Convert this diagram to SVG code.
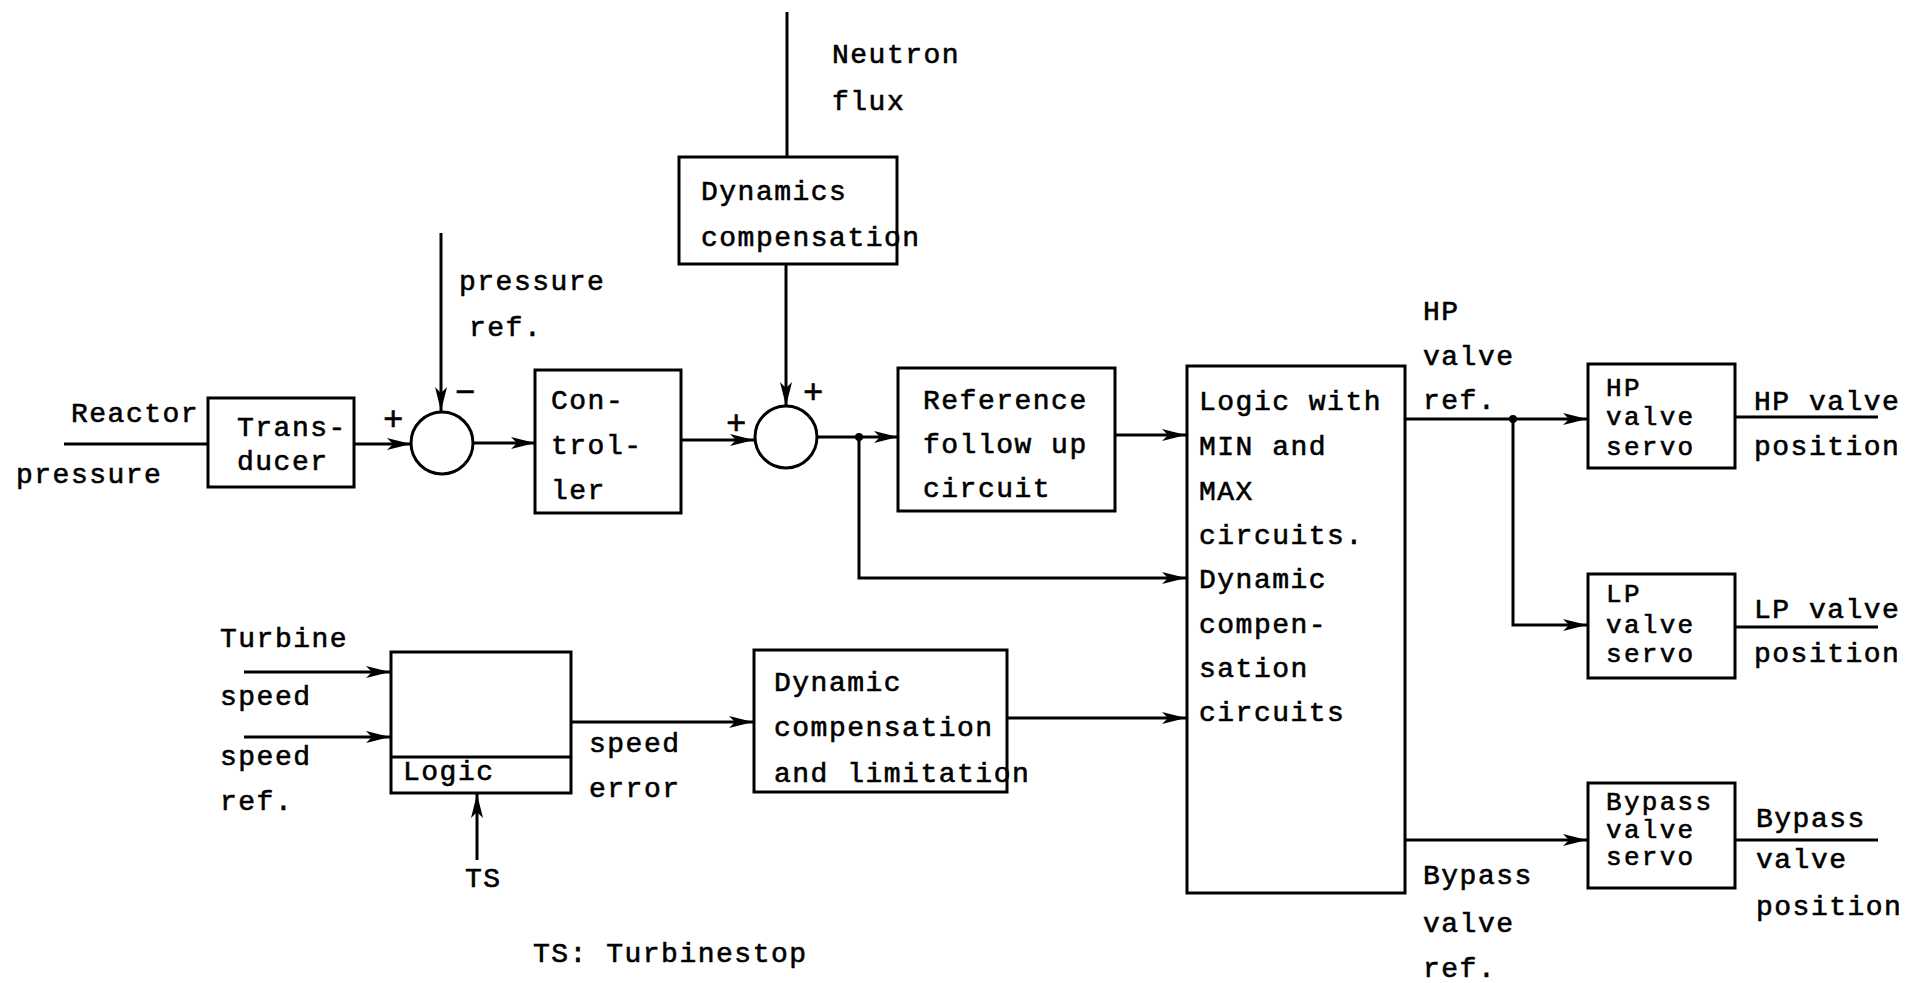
<svg xmlns="http://www.w3.org/2000/svg" width="1927" height="983" viewBox="0 0 1927 983">
<defs>
<marker id="arr" markerUnits="userSpaceOnUse" markerWidth="26" markerHeight="14" refX="24" refY="7" orient="auto">
<path d="M0,1 L24,7 L0,13 L6,7 Z" fill="#000"/>
</marker>
<style>
.b{fill:#fff;stroke:#000;stroke-width:3}
.l{fill:none;stroke:#000;stroke-width:3}
.a{fill:none;stroke:#000;stroke-width:3;marker-end:url(#arr)}
text{font-family:"Liberation Mono","Courier New",monospace;font-size:28px;letter-spacing:1.5px;fill:#000;stroke:#000;stroke-width:0.6px}
.s{font-size:34px;letter-spacing:0}
.v{font-size:26px;letter-spacing:2.3px}
</style>
</defs>
<rect width="1927" height="983" fill="#fff"/>

<g id="connectors">
<line class="l" x1="64" y1="444" x2="208" y2="444"/>
<line class="a" x1="354" y1="444" x2="411" y2="444"/>
<line class="a" x1="441" y1="233" x2="441" y2="411"/>
<line class="a" x1="473" y1="443" x2="535" y2="443"/>
<line class="a" x1="681" y1="440" x2="754" y2="440"/>
<line class="l" x1="787" y1="12" x2="787" y2="157"/>
<line class="a" x1="786" y1="264" x2="786" y2="406"/>
<line class="a" x1="816" y1="437" x2="898" y2="437"/>
<polyline class="a" points="859,437 859,578 1186,578"/>
<circle cx="859" cy="437" r="4" fill="#000"/>
<line class="a" x1="1115" y1="435" x2="1186" y2="435"/>
<line class="a" x1="244" y1="672" x2="390" y2="672"/>
<line class="a" x1="244" y1="737" x2="390" y2="737"/>
<line class="a" x1="477" y1="860" x2="477" y2="794"/>
<line class="a" x1="571" y1="722" x2="753" y2="722"/>
<line class="a" x1="1007" y1="718" x2="1186" y2="718"/>
<line class="a" x1="1405" y1="419" x2="1587" y2="419"/>
<polyline class="a" points="1513,419 1513,625 1587,625"/>
<circle cx="1513" cy="419" r="4" fill="#000"/>
<line class="a" x1="1405" y1="840" x2="1587" y2="840"/>
<line class="l" x1="1735" y1="417" x2="1878" y2="417"/>
<line class="l" x1="1735" y1="627" x2="1878" y2="627"/>
<line class="l" x1="1735" y1="840" x2="1878" y2="840"/>
</g>

<g id="labels">
<text x="71" y="422">Reactor</text>
<text x="16" y="483">pressure</text>
<text x="459" y="290">pressure</text>
<text x="469" y="336">ref.</text>
<text x="832" y="63">Neutron</text>
<text x="832" y="110">flux</text>
<text class="s" x="383" y="430">+</text>
<text class="s" x="455" y="403">−</text>
<text class="s" x="726" y="434">+</text>
<text class="s" x="803" y="403">+</text>
<text x="220" y="647">Turbine</text>
<text x="220" y="705">speed</text>
<text x="220" y="765">speed</text>
<text x="220" y="810">ref.</text>
<text x="589" y="752">speed</text>
<text x="589" y="797">error</text>
<text x="465" y="887">TS</text>
<text x="533" y="962">TS: Turbinestop</text>
<text x="1423" y="320">HP</text>
<text x="1423" y="365">valve</text>
<text x="1423" y="409">ref.</text>
<text x="1423" y="884">Bypass</text>
<text x="1423" y="932">valve</text>
<text x="1423" y="977">ref.</text>
<text x="1754" y="410">HP valve</text>
<text x="1754" y="455">position</text>
<text x="1754" y="618">LP valve</text>
<text x="1754" y="662">position</text>
<text x="1756" y="827">Bypass</text>
<text x="1756" y="868">valve</text>
<text x="1756" y="915">position</text>
</g>

<g id="transducer">
<rect class="b" x="208" y="398" width="146" height="89"/>
<text x="237" y="436">Trans-</text>
<text x="237" y="470">ducer</text>
</g>

<g id="sum1">
<circle class="b" cx="442" cy="443" r="31"/>
</g>

<g id="controller">
<rect class="b" x="535" y="370" width="146" height="143"/>
<text x="551" y="409">Con-</text>
<text x="551" y="454">trol-</text>
<text x="551" y="499">ler</text>
</g>

<g id="dynamics-compensation">
<rect class="b" x="679" y="157" width="218" height="107"/>
<text x="701" y="200">Dynamics</text>
<text x="701" y="246">compensation</text>
</g>

<g id="sum2">
<circle class="b" cx="786" cy="437" r="31"/>
</g>

<g id="reference-follow-up">
<rect class="b" x="898" y="368" width="217" height="143"/>
<text x="923" y="409">Reference</text>
<text x="923" y="453">follow up</text>
<text x="923" y="497">circuit</text>
</g>

<g id="logic-min-max">
<rect class="b" x="1187" y="366" width="218" height="527"/>
<text x="1199" y="410">Logic with</text>
<text x="1199" y="455">MIN and</text>
<text x="1199" y="500">MAX</text>
<text x="1199" y="544">circuits.</text>
<text x="1199" y="588">Dynamic</text>
<text x="1199" y="633">compen-</text>
<text x="1199" y="677">sation</text>
<text x="1199" y="721">circuits</text>
</g>

<g id="speed-logic">
<rect class="b" x="391" y="652" width="180" height="141"/>
<line class="l" x1="391" y1="757" x2="571" y2="757"/>
<text x="403" y="780">Logic</text>
</g>

<g id="dynamic-compensation-limitation">
<rect class="b" x="754" y="650" width="253" height="142"/>
<text x="774" y="691">Dynamic</text>
<text x="774" y="736">compensation</text>
<text x="774" y="782">and limitation</text>
</g>

<g id="hp-servo">
<rect class="b" x="1588" y="364" width="147" height="104"/>
<text class="v" x="1606" y="396">HP</text>
<text class="v" x="1606" y="425">valve</text>
<text class="v" x="1606" y="455">servo</text>
</g>

<g id="lp-servo">
<rect class="b" x="1588" y="574" width="147" height="104"/>
<text class="v" x="1606" y="602">LP</text>
<text class="v" x="1606" y="633">valve</text>
<text class="v" x="1606" y="662">servo</text>
</g>

<g id="bypass-servo">
<rect class="b" x="1588" y="783" width="147" height="105"/>
<text class="v" x="1606" y="810">Bypass</text>
<text class="v" x="1606" y="838">valve</text>
<text class="v" x="1606" y="865">servo</text>
</g>
</svg>
